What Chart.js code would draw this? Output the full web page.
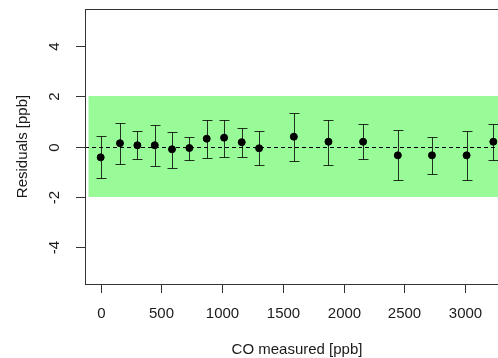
<!DOCTYPE html>
<html>
<head>
<meta charset="utf-8">
<script src="https://cdn.jsdelivr.net/npm/chart.js@4/dist/chart.umd.min.js"></script>
<style>
  html, body { margin: 0; padding: 0; background: #fff; overflow: hidden; }
  #wrap { width: 498px; height: 358px; overflow: hidden; }
</style>
</head>
<body>
<div id="wrap"><canvas id="residChart" width="520" height="358"></canvas></div>
<script>
// CO measured [ppb] and residuals with error bar ends
const coMeasured = [0, 159, 302, 445, 587, 730, 873, 1016, 1161, 1304, 1590, 1875, 2160, 2446, 2727, 3012, 3232];
const residuals  = [-0.43, 0.13, 0.05, 0.05, -0.11, -0.06, 0.31, 0.35, 0.17, -0.07, 0.39, 0.19, 0.19, -0.35, -0.35, -0.35, 0.19];
const errHigh    = [0.40, 0.92, 0.61, 0.84, 0.57, 0.39, 1.06, 1.06, 0.72, 0.61, 1.34, 1.06, 0.88, 0.65, 0.38, 0.61, 0.88];
const errLow     = [-1.25, -0.68, -0.50, -0.76, -0.84, -0.53, -0.46, -0.42, -0.42, -0.72, -0.56, -0.72, -0.50, -1.33, -1.10, -1.33, -0.53];
const xTicks = [0, 500, 1000, 1500, 2000, 2500, 3000];
const yTicks = [-4, -2, 0, 2, 4];
const bandLimits = [-2, 2];

const FONT = '15px "Liberation Sans", Arial, sans-serif';

// R style frame, band, error bars and labels
const rPlot = {
    id: 'rPlot',
    beforeDatasetsDraw(chart) {
        const ctx = chart.ctx;
        const xs = chart.scales.x, ys = chart.scales.y;
        const area = chart.chartArea;
        ctx.save();
        // green tolerance band
        const bx = xs.getPixelForValue(-100);
        const top = ys.getPixelForValue(bandLimits[1]);
        const bot = ys.getPixelForValue(bandLimits[0]);
        ctx.fillStyle = '#98fb98';
        ctx.fillRect(bx, top, area.right - bx, bot - top);
        // zero line
        const y0 = ys.getPixelForValue(0);
        ctx.strokeStyle = '#000';
        ctx.lineWidth = 1;
        ctx.setLineDash([4, 3]);
        ctx.beginPath();
        ctx.moveTo(area.left, Math.round(y0) + 0.5);
        ctx.lineTo(area.right, Math.round(y0) + 0.5);
        ctx.stroke();
        ctx.setLineDash([]);
        // error bars
        ctx.strokeStyle = 'rgba(0,0,0,0.8)';
        for (let i = 0; i < coMeasured.length; i++) {
            const px = Math.round(xs.getPixelForValue(coMeasured[i])) + 0.5;
            const hi = Math.round(ys.getPixelForValue(errHigh[i])) + 0.5;
            const lo = Math.round(ys.getPixelForValue(errLow[i])) + 0.5;
            ctx.beginPath();
            ctx.moveTo(px, hi); ctx.lineTo(px, lo);
            ctx.moveTo(px - 5, hi); ctx.lineTo(px + 5, hi);
            ctx.moveTo(px - 5, lo); ctx.lineTo(px + 5, lo);
            ctx.stroke();
        }
        ctx.restore();
    },
    afterDraw(chart) {
        const ctx = chart.ctx;
        const xs = chart.scales.x, ys = chart.scales.y;
        const area = chart.chartArea;
        ctx.save();
        ctx.strokeStyle = '#333';
        ctx.lineWidth = 1;
        ctx.strokeRect(Math.round(area.left) + 0.5, Math.round(area.top) + 0.5,
            Math.round(area.right - area.left), Math.round(area.bottom - area.top));
        ctx.fillStyle = '#1a1a1a';
        ctx.font = FONT;
        // x ticks
        ctx.textAlign = 'center';
        ctx.textBaseline = 'alphabetic';
        xTicks.forEach(v => {
            const px = Math.round(xs.getPixelForValue(v)) + 0.5;
            ctx.beginPath();
            ctx.moveTo(px, area.bottom);
            ctx.lineTo(px, area.bottom + 9);
            ctx.stroke();
            ctx.fillText(String(v), px, 317.5);
        });
        // y ticks (rotated labels like R)
        yTicks.forEach(v => {
            const py = Math.round(ys.getPixelForValue(v)) + 0.5;
            ctx.beginPath();
            ctx.moveTo(area.left - 9, py);
            ctx.lineTo(area.left, py);
            ctx.stroke();
            ctx.save();
            ctx.translate(58.5, py);
            ctx.rotate(-Math.PI / 2);
            ctx.fillText(String(v), 0, 0);
            ctx.restore();
        });
        // axis titles
        ctx.fillText('CO measured [ppb]', (area.left + area.right) / 2, 354);
        ctx.save();
        ctx.translate(26.5, (area.top + area.bottom) / 2);
        ctx.rotate(-Math.PI / 2);
        ctx.fillText('Residuals [ppb]', 0, 0);
        ctx.restore();
        ctx.restore();
    }
};

const ctx = document.getElementById('residChart').getContext('2d');
const residChart = new Chart(ctx, {
    type: 'scatter',
    data: {
        datasets: [{
            label: 'Residuals',
            data: coMeasured.map((x, i) => ({ x: x, y: residuals[i] })),
            backgroundColor: '#000',
            borderColor: '#000',
            pointRadius: 3.5,
            pointHoverRadius: 3.5
        }]
    },
    options: {
        responsive: false,
        animation: false,
        layout: { padding: { left: 85, top: 9, right: 11, bottom: 74 } },
        scales: {
            x: { type: 'linear', min: -129, max: 3361, display: false },
            y: { type: 'linear', min: -5.45, max: 5.45, display: false }
        },
        plugins: {
            legend: { display: false },
            tooltip: { enabled: false }
        }
    },
    plugins: [rPlot]
});
</script>
</body>
</html>
